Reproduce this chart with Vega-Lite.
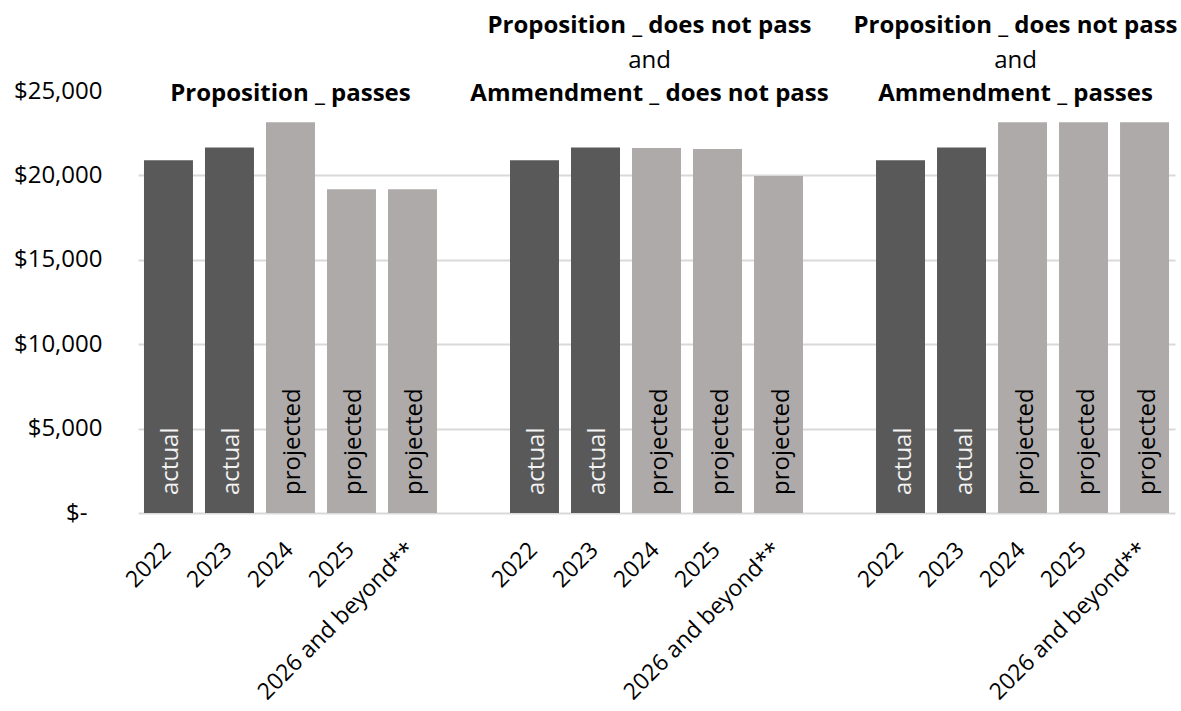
{
  "$schema": "https://vega.github.io/schema/vega-lite/v6.json",
  "width": 1037,
  "height": 422,
  "autosize": {"type": "none"},
  "padding": {"left": 138, "top": 91, "right": 6, "bottom": 198},
  "background": "white",
  "config": {"view": {"stroke": null}, "font": "Open Sans"},
  "datasets": {
    "bars": [
      {"key": "g1|2022", "year": "2022", "type": "actual", "value": 20900},
      {"key": "g1|2023", "year": "2023", "type": "actual", "value": 21660},
      {"key": "g1|2024", "year": "2024", "type": "projected", "value": 23150},
      {"key": "g1|2025", "year": "2025", "type": "projected", "value": 19180},
      {"key": "g1|2026", "year": "2026 and beyond**", "type": "projected", "value": 19180},
      {"key": "g2|2022", "year": "2022", "type": "actual", "value": 20900},
      {"key": "g2|2023", "year": "2023", "type": "actual", "value": 21660},
      {"key": "g2|2024", "year": "2024", "type": "projected", "value": 21620},
      {"key": "g2|2025", "year": "2025", "type": "projected", "value": 21560},
      {"key": "g2|2026", "year": "2026 and beyond**", "type": "projected", "value": 19970},
      {"key": "g3|2022", "year": "2022", "type": "actual", "value": 20900},
      {"key": "g3|2023", "year": "2023", "type": "actual", "value": 21660},
      {"key": "g3|2024", "year": "2024", "type": "projected", "value": 23150},
      {"key": "g3|2025", "year": "2025", "type": "projected", "value": 23150},
      {"key": "g3|2026", "year": "2026 and beyond**", "type": "projected", "value": 23150}
    ],
    "titles": [
      {"key": "g1|2024", "group": 1, "line": 3, "text": "Proposition _ passes"},
      {"key": "g2|2024", "group": 2, "line": 1, "text": "Proposition _ does not pass"},
      {"key": "g2|2024", "group": 2, "line": 2, "text": "and"},
      {"key": "g2|2024", "group": 2, "line": 3, "text": "Ammendment _ does not pass"},
      {"key": "g3|2024", "group": 3, "line": 1, "text": "Proposition _ does not pass"},
      {"key": "g3|2024", "group": 3, "line": 2, "text": "and"},
      {"key": "g3|2024", "group": 3, "line": 3, "text": "Ammendment _ passes"}
    ]
  },
  "encoding": {
    "x": {
      "field": "key",
      "type": "nominal",
      "scale": {
        "domain": ["g1|2022", "g1|2023", "g1|2024", "g1|2025", "g1|2026", "gap1", "g2|2022", "g2|2023", "g2|2024", "g2|2025", "g2|2026", "gap2", "g3|2022", "g3|2023", "g3|2024", "g3|2025", "g3|2026"],
        "paddingInner": 0.197,
        "paddingOuter": 0.098
      },
      "axis": {
        "title": null,
        "domain": false,
        "ticks": false,
        "grid": false,
        "labelAngle": -45,
        "labelAlign": "right",
        "labelBaseline": "middle",
        "labelPadding": 33,
        "labelOffset": -1,
        "labelFontSize": 23,
        "labelColor": "#000000",
        "labelFont": "Open Sans",
        "labelOverlap": false,
        "labelLimit": 400,
        "labelExpr": "indexof(datum.value, '|') > 0 ? (slice(datum.value, 3) == '2026' ? '2026 and beyond**' : slice(datum.value, 3)) : ''"
      }
    }
  },
  "layer": [
    {
      "data": {"name": "bars"},
      "mark": {"type": "bar"},
      "encoding": {
        "y": {
          "field": "value",
          "type": "quantitative",
          "scale": {"domain": [0, 25000], "nice": false, "zero": true},
          "axis": {
            "title": null,
            "domain": false,
            "ticks": false,
            "tickSize": 0,
            "values": [0, 5000, 10000, 15000, 20000, 25000],
            "grid": true,
            "gridColor": {"condition": {"test": "datum.value == 25000", "value": "transparent"}, "value": "#d9d9d9"},
            "gridWidth": 2,
            "labelPadding": {"condition": {"test": "datum.value == 0", "value": 51}, "value": 36},
            "labelFontSize": 24,
            "labelColor": "#000000",
            "labelFont": "Open Sans",
            "labelExpr": "datum.value == 0 ? '$-' : '$' + format(datum.value, ',')"
          }
        },
        "color": {
          "field": "type",
          "type": "nominal",
          "scale": {"domain": ["actual", "projected"], "range": ["#595959", "#aeaaaa"]},
          "legend": null
        }
      }
    },
    {
      "data": {"name": "bars"},
      "mark": {"type": "text", "angle": -90, "align": "left", "baseline": "middle", "dx": 18, "dy": 3, "fontSize": 24, "font": "Open Sans"},
      "encoding": {
        "y": {"datum": 0, "type": "quantitative"},
        "text": {"field": "type"},
        "color": {"condition": {"test": "datum.type == 'actual'", "value": "#f2f2f2"}, "value": "#000000"}
      }
    },
    {
      "data": {"name": "titles"},
      "transform": [{"filter": "datum.line == 1"}],
      "mark": {"type": "text", "align": "center", "baseline": "alphabetic", "dx": -7, "dy": -58, "fontSize": 24, "fontWeight": "bold", "font": "Open Sans", "color": "#000000"},
      "encoding": {
        "y": {"datum": 25000, "type": "quantitative"},
        "text": {"field": "text"}
      }
    },
    {
      "data": {"name": "titles"},
      "transform": [{"filter": "datum.line == 2"}],
      "mark": {"type": "text", "align": "center", "baseline": "alphabetic", "dx": -7, "dy": -23, "fontSize": 24, "fontWeight": "normal", "font": "Open Sans", "color": "#000000"},
      "encoding": {
        "y": {"datum": 25000, "type": "quantitative"},
        "text": {"field": "text"}
      }
    },
    {
      "data": {"name": "titles"},
      "transform": [{"filter": "datum.line == 3 && datum.group == 1"}],
      "mark": {"type": "text", "align": "center", "baseline": "alphabetic", "dy": 10, "fontSize": 24, "fontWeight": "bold", "font": "Open Sans", "color": "#000000"},
      "encoding": {
        "y": {"datum": 25000, "type": "quantitative"},
        "text": {"field": "text"}
      }
    },
    {
      "data": {"name": "titles"},
      "transform": [{"filter": "datum.line == 3 && datum.group > 1"}],
      "mark": {"type": "text", "align": "center", "baseline": "alphabetic", "dx": -7, "dy": 10, "fontSize": 24, "fontWeight": "bold", "font": "Open Sans", "color": "#000000"},
      "encoding": {
        "y": {"datum": 25000, "type": "quantitative"},
        "text": {"field": "text"}
      }
    }
  ]
}
